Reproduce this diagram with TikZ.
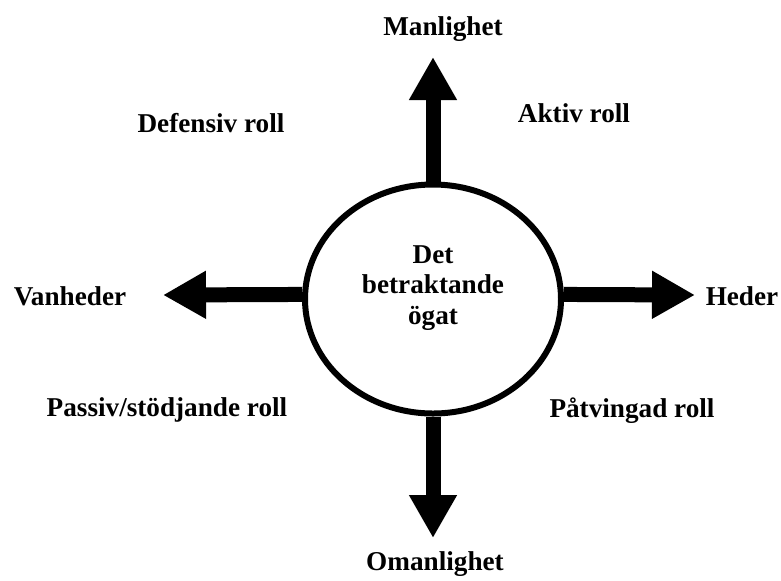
\documentclass[tikz,border=0pt]{standalone}
\usepackage{fontspec}
\setmainfont{Liberation Serif}
\usetikzlibrary{arrows.meta, shapes.geometric}
\tikzset{
	lbl/.style={font=\fontsize{13.6}{15.25}\selectfont\bfseries, inner sep=0pt, anchor=base},
	axisarrow/.style={line width=7.5pt, -{Triangle[length=21.5pt, width=22.5pt]}},
}
\def\unit{0.5pt}

\begin{document}
\begin{tikzpicture}[x=\unit, y=-\unit]
	\useasboundingbox (0,0) rectangle (781,580);

	\node[draw, ellipse, line width=3pt, minimum width=128pt, minimum height=114.5pt, inner sep=0pt] (eye) at (433,299) {};
	\node[lbl, anchor=center, align=center] (eyetext) at (433,288) {Det\\betraktande\\ögat};

	\coordinate (up) at (433,57);
	\coordinate (down) at (433,538);
	\coordinate (left) at (163,295);
	\coordinate (right) at (695,295);

	\draw[axisarrow] (eye.north) -- (up);
	\draw[axisarrow] (eye.south) -- (down);
	\draw[axisarrow] (eye.178) -- (left);
	\draw[axisarrow] (eye.2) -- (right);

	\node[lbl] (manlighet) at (443,35) {Manlighet};
	\node[lbl] (omanlighet) at (435,570) {Omanlighet};
	\node[lbl] (vanheder) at (70,305) {Vanheder};
	\node[lbl] (heder) at (742,305) {Heder};

	\node[lbl] (defensiv) at (211,132) {Defensiv roll};
	\node[lbl] (aktiv) at (574,122) {Aktiv roll};
	\node[lbl] (passiv) at (167,416) {Passiv/stödjande roll};
	\node[lbl] (patvingad) at (632,417) {Påtvingad roll};

\end{tikzpicture}
\end{document}
